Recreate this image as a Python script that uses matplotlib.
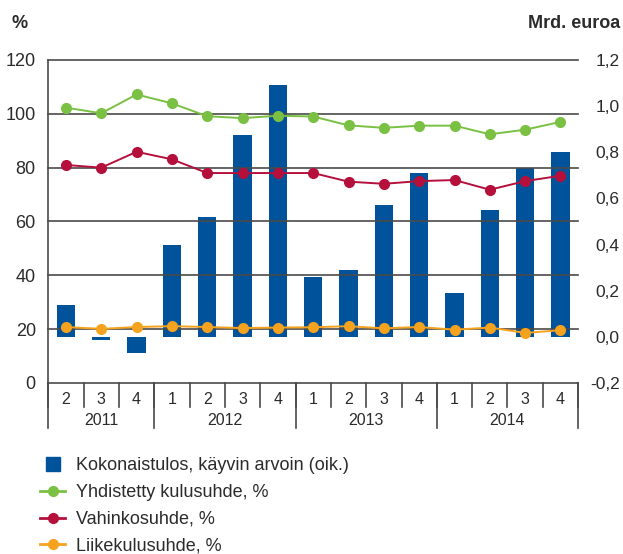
import matplotlib.pyplot as plt
import numpy as np
from matplotlib.lines import Line2D
from matplotlib.ticker import FuncFormatter

plt.rcParams['font.family'] = ['Liberation Sans', 'DejaVu Sans']

# Data
quarters = ['2', '3', '4', '1', '2', '3', '4', '1', '2', '3', '4', '1', '2', '3', '4']
years = ['2011', '2012', '2013', '2014']
year_counts = [3, 4, 4, 4]
kokonaistulos = [0.14, -0.015, -0.07, 0.40, 0.52, 0.875, 1.09, 0.26, 0.29, 0.57, 0.71,
                 0.19, 0.55, 0.73, 0.80]
yhdistetty = [102.3, 100.2, 107.2, 103.9, 99.1, 98.4, 99.3, 99.0, 95.7, 94.8, 95.6,
              95.6, 92.4, 94.1, 97.0]
vahinko = [81.0, 80.0, 85.9, 83.1, 78.0, 78.0, 78.0, 78.0, 74.8, 74.0, 75.0,
           75.4, 71.8, 75.0, 77.0]
liike = [20.8, 20.1, 20.8, 21.1, 20.8, 20.4, 20.6, 20.7, 21.1, 20.3, 20.8,
         19.8, 20.6, 18.6, 19.6]

blue = '#00529b'
green = '#7ac143'
red = '#b5103c'
orange = '#f5a21f'
grid_c = '#4a4a4a'
txt_c = '#2b2b2b'

x = np.arange(len(quarters))

fig = plt.figure(figsize=(6.23, 5.54), dpi=100)
ax = fig.add_axes([0.0775, 0.3087, 0.8505, 0.583])
axb = ax.twinx()
ax.set_zorder(axb.get_zorder() + 1)
ax.patch.set_visible(False)

# bars on right axis
axb.bar(x, kokonaistulos, width=0.52, color=blue, zorder=2)
axb.set_ylim(-0.2, 1.2)
axb.set_yticks(np.arange(-0.2, 1.21, 0.2))
axb.yaxis.set_major_formatter(FuncFormatter(lambda v, p: f'{v:.1f}'.replace('.', ',')))

# lines on left axis
ax.plot(x, yhdistetty, color=green, lw=1.4, marker='o', ms=7, zorder=4)
ax.plot(x, vahinko, color=red, lw=1.4, marker='o', ms=7, zorder=4)
ax.plot(x, liike, color=orange, lw=1.4, marker='o', ms=7, zorder=4)

ax.set_ylim(0, 120)
ax.set_yticks(np.arange(0, 121, 20))
ax.set_xlim(-0.5, len(x) - 0.5)
ax.set_xticks([])
axb.set_xticks([])

for v in np.arange(0, 121, 20):
    ax.axhline(v, color=grid_c, lw=1.2, zorder=1, clip_on=False)

for a in (ax, axb):
    for s in ['top', 'right', 'bottom']:
        a.spines[s].set_visible(False)
axb.spines['left'].set_visible(False)
ax.spines['left'].set_color(grid_c)
ax.spines['left'].set_linewidth(1.2)

ax.tick_params(axis='y', length=0, pad=9, labelsize=13, labelcolor=txt_c)
axb.tick_params(axis='y', length=0, pad=30, labelsize=12.5, labelcolor=txt_c)
for lbl in axb.get_yticklabels():
    lbl.set_horizontalalignment('right')

# category axis below plot
tr = ax.get_xaxis_transform()
q_drop = 24 / 323
y_drop = 45 / 323
for i in range(len(x) + 1):
    ax.plot([i - 0.5, i - 0.5], [0, -q_drop], color=grid_c, lw=1.2, transform=tr, clip_on=False)
for i, q in enumerate(quarters):
    ax.text(i, -17 / 323, q, transform=tr, ha='center', va='center', fontsize=11.5, color=txt_c)
start = 0
for yr, n in zip(years, year_counts):
    ax.plot([start - 0.5, start - 0.5], [0, -y_drop], color=grid_c, lw=1.2, transform=tr, clip_on=False)
    ax.text(start + n / 2 - 0.5, -38 / 323, yr, transform=tr, ha='center', va='center',
            fontsize=11.5, color=txt_c)
    start += n
ax.plot([start - 0.5, start - 0.5], [0, -y_drop], color=grid_c, lw=1.2, transform=tr, clip_on=False)

# axis headers
fig.text(20 / 623, 1 - 24 / 554, '%', ha='center', va='center', fontsize=13, fontweight='bold', color=txt_c)
fig.text(620 / 623, 1 - 24 / 554, 'Mrd. euroa', ha='right', va='center', fontsize=13,
         fontweight='bold', color=txt_c)

handles = [
    Line2D([], [], color=blue, marker='s', ls='', ms=10),
    Line2D([], [], color=green, marker='o', ms=7, lw=2),
    Line2D([], [], color=red, marker='o', ms=7, lw=2),
    Line2D([], [], color=orange, marker='o', ms=7, lw=2),
]
labels = ['Kokonaistulos, käyvin arvoin (oik.)', 'Yhdistetty kulusuhde, %',
          'Vahinkosuhde, %', 'Liikekulusuhde, %']
fig.legend(handles, labels, loc='upper left', bbox_to_anchor=(40 / 623, 1 - 457 / 554),
           frameon=False, fontsize=13, labelcolor=txt_c, handlelength=1.4,
           handletextpad=0.6, labelspacing=0.55, borderpad=0, borderaxespad=0)

fig.savefig('out.png', dpi=100)
